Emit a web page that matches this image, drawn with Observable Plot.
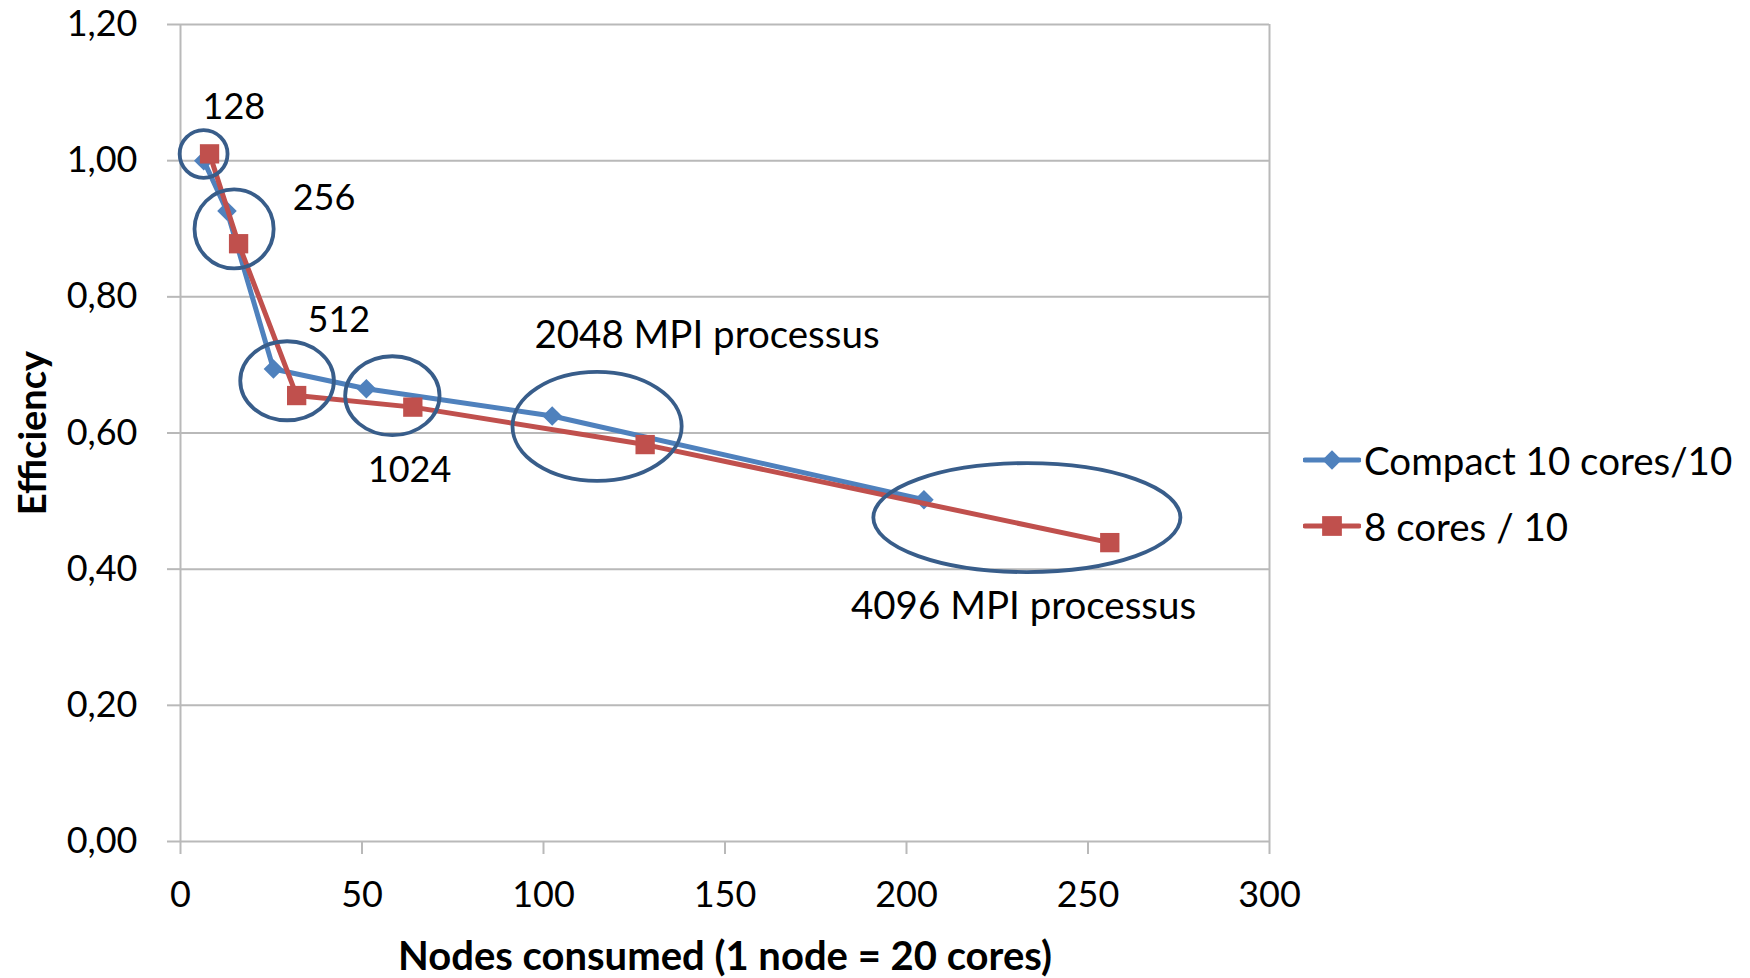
<!DOCTYPE html>
<html>
<head>
<meta charset="utf-8">
<script src="https://cdn.jsdelivr.net/npm/d3@7"></script>
<script src="https://cdn.jsdelivr.net/npm/@observablehq/plot@0.6"></script>
<style>
  body { margin: 0; background: #fff; font-family: Lato, "Open Sans", sans-serif; }
  #wrap { position: relative; width: 1750px; height: 978px; }
  #legend { position: absolute; left: 1303px; top: 427px; }
  .row { display: flex; align-items: center; height: 66px; font-size: 38.5px; color: #000; white-space: nowrap; }
  .row svg { margin-right: 3px; }
</style>
</head>
<body>
<div id="wrap">
  <div id="chart"></div>
  <div id="legend"></div>
</div>
<script>
// Strong-scaling efficiency: MPI process counts and nodes used by each placement
const processCounts = [128, 256, 512, 1024, 2048, 4096];

// "Compact 10 cores/10" series
const compactNodes = [6.4, 12.8, 25.6, 51.2, 102.4, 204.8];
const compactEff   = [1.00, 0.926, 0.694, 0.665, 0.625, 0.502];

// "8 cores / 10" series
const eightNodes = [8, 16, 32, 64, 128, 256];
const eightEff   = [1.01, 0.878, 0.655, 0.638, 0.583, 0.439];

const seriesNames = ["Compact 10 cores/10", "8 cores / 10"];

const yTicks = [0, 0.2, 0.4, 0.6, 0.8, 1.0, 1.2];
const xTicks = [0, 50, 100, 150, 200, 250, 300];

// Annotations: process-count labels and the rings grouping each pair of runs
const labelText = ["128", "256", "512", "1024", "2048 MPI processus", "4096 MPI processus"];
const labelX = [6.06, 30.9, 35.0, 51.6, 97.5, 184.7];
const labelY = [1.078, 0.944, 0.766, 0.545, 0.743, 0.345];

const ringX  = [6.5, 14.9, 29.5, 58.5, 114.9, 233.3];
const ringY  = [1.009, 0.899, 0.676, 0.654, 0.609, 0.475];
const ringRx = [6.6, 10.9, 12.9, 13.0, 23.3, 42.3];
const ringRy = [0.035, 0.058, 0.058, 0.058, 0.080, 0.080];

const BLUE = "#4F81BD", RED = "#C0504D", RING = "#385D8A", GRID = "#b9b9b9";

const compact = compactNodes.map((n, i) => ({nodes: n, eff: compactEff[i]}));
const eight = eightNodes.map((n, i) => ({nodes: n, eff: eightEff[i]}));
const labels = labelText.map((t, i) => ({text: t, x: labelX[i], y: labelY[i]}));
const rings = ringX.map((cx, i) => ({cx, cy: ringY[i], rx: ringRx[i], ry: ringRy[i]}));

const fmt = d => d.toFixed(2).replace(".", ",");

// Rings are drawn in data units through the plot's x and y scales
function ringMark(index, scales) {
  const {x, y} = scales;
  const g = d3.create("svg:g")
    .attr("fill", "none")
    .attr("stroke", RING)
    .attr("stroke-width", 3.8);
  for (const r of rings) {
    g.append("ellipse")
      .attr("cx", x(r.cx))
      .attr("cy", y(r.cy))
      .attr("rx", Math.abs(x(r.cx + r.rx) - x(r.cx)))
      .attr("ry", Math.abs(y(r.cy - r.ry) - y(r.cy)));
  }
  return g.node();
}

const chart = Plot.plot({
  width: 1750,
  height: 978,
  marginLeft: 180,
  marginRight: 481,
  marginTop: 24,
  marginBottom: 137,
  x: {domain: [0, 300]},
  y: {domain: [0, 1.2]},
  style: {fontFamily: "Lato, 'Open Sans', sans-serif", background: "#fff", color: "#000"},
  marks: [
    Plot.ruleY(yTicks, {stroke: GRID, strokeWidth: 2}),
    Plot.ruleX([0, 300], {stroke: GRID, strokeWidth: 2}),
    Plot.axisY({ticks: yTicks, tickSize: 13, tickPadding: 30, stroke: GRID, strokeWidth: 2,
                fill: "#000", tickFormat: fmt, fontSize: 36, label: null}),
    Plot.axisX({ticks: xTicks, tickSize: 13, tickPadding: 27, stroke: GRID, strokeWidth: 2,
                fill: "#000", fontSize: 36, label: null}),
    Plot.line(compact, {x: "nodes", y: "eff", stroke: BLUE, strokeWidth: 5}),
    Plot.dot(compact, {x: "nodes", y: "eff", symbol: "diamond2", r: 8.8, fill: BLUE}),
    Plot.line(eight, {x: "nodes", y: "eff", stroke: RED, strokeWidth: 5}),
    Plot.dot(eight, {x: "nodes", y: "eff", symbol: "square", r: 10.9, fill: RED}),
    ringMark,
    Plot.text(labels, {x: "x", y: "y", text: "text", textAnchor: "start",
                       fontSize: d => d.text.length > 4 ? 38.5 : 36, fill: "#000"}),
    Plot.text(["Nodes consumed (1 node = 20 cores)"], {frameAnchor: "bottom", dy: 128,
                textAnchor: "middle", fontWeight: "bold", fontSize: 40, fill: "#000"}),
    Plot.text(["Efficiency"], {frameAnchor: "left", dx: -147, rotate: -90, textAnchor: "middle",
                fontWeight: "bold", fontSize: 38, fill: "#000"})
  ]
});
document.getElementById("chart").append(chart);

// Legend to the right of the plot
const legendSpec = [
  {name: seriesNames[0], color: BLUE, type: d3.symbolDiamond2, size: 240},
  {name: seriesNames[1], color: RED, type: d3.symbolSquare, size: 390}
];
const legend = d3.select("#legend");
for (const item of legendSpec) {
  const row = legend.append("div").attr("class", "row");
  const svg = row.append("svg").attr("width", 58).attr("height", 26);
  svg.append("line").attr("x1", 2).attr("x2", 56).attr("y1", 13).attr("y2", 13)
    .attr("stroke", item.color).attr("stroke-width", 5).attr("stroke-linecap", "round");
  svg.append("path").attr("transform", "translate(29,13)")
    .attr("d", d3.symbol().type(item.type).size(item.size)()).attr("fill", item.color);
  row.append("span").text(item.name);
}
</script>
</body>
</html>
